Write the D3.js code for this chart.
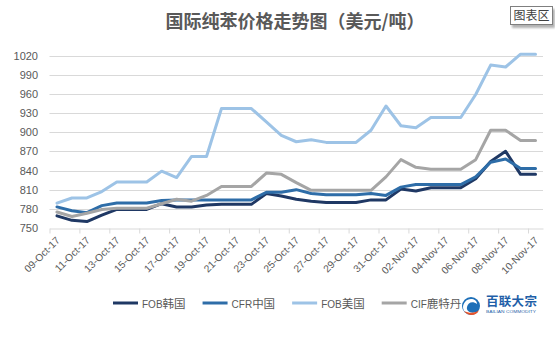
<!DOCTYPE html>
<html>
<head>
<meta charset="utf-8">
<script src="https://cdn.jsdelivr.net/npm/d3@7"></script>
<style>
  html, body { margin: 0; padding: 0; background: #fff; }
  svg { display: block; }
  text { font-family: "Liberation Sans", "Noto Sans CJK SC", sans-serif; }
</style>
</head>
<body>
<svg id="chart" width="555" height="338"></svg>
<script>
// Daily quotations, Oct 9 – Nov 10 2017 (weekends carry Friday's price)
const dates = [
  "2017-10-09","2017-10-10","2017-10-11","2017-10-12","2017-10-13","2017-10-14","2017-10-15",
  "2017-10-16","2017-10-17","2017-10-18","2017-10-19","2017-10-20","2017-10-21","2017-10-22",
  "2017-10-23","2017-10-24","2017-10-25","2017-10-26","2017-10-27","2017-10-28","2017-10-29",
  "2017-10-30","2017-10-31","2017-11-01","2017-11-02","2017-11-03","2017-11-04","2017-11-05",
  "2017-11-06","2017-11-07","2017-11-08","2017-11-09","2017-11-10"
];
const fobKorea = [769,762,760,770,779,779,779, 788,783,783,786,787,787,787, 804,800,795,792,790,790,790, 794,794,811,808,813,813,813, 827,854,870,834,834];
const cfrChina = [783,777,774,785,789,789,789, 793,794,794,794,794,794,794, 806,806,810,804,802,802,802, 804,801,814,818,818,818,818, 830,853,858,843,843];
const fobUSA = [789,797,797,807,822,822,822, 839,829,862,862,937,937,937, 916,895,885,888,884,884,884, 903,941,910,907,923,923,923, 959,1005,1002,1022,1022];
const cifRotterdam = [775,768,773,779,781,781,781, 788,795,792,801,815,815,815, 836,834,821,809,809,809,809, 809,830,857,845,842,842,842, 857,903,903,887,887];

const seriesNames = ["FOB韩国", "CFR中国", "FOB美国", "CIF鹿特丹"];
const seriesColors = ["#1F3864", "#2E6DA8", "#9DC3E6", "#A5A5A5"];
const yTicks = [750, 780, 810, 840, 870, 900, 930, 960, 990, 1020];
const titleText = "国际纯苯价格走势图（美元/吨）";

const svg = d3.select("#chart");
const parse = d3.timeParse("%Y-%m-%d");
const days = dates.map(parse);
const series = [fobKorea, cfrChina, fobUSA, cifRotterdam];

// plot frame
const plotLeft = 49.5, plotRight = 543, plotTop = 55.5, plotBottom = 228;

const x = d3.scaleTime()
  .domain([days[0], d3.timeDay.offset(days[days.length - 1], 1)])
  .range([plotLeft, plotRight]);
const y = d3.scaleLinear().domain([750, 1020]).range([plotBottom, plotTop]);

// each day's value sits in the middle of its day slot
const xMid = d => x(d3.timeHour.offset(d, 12));

// gridlines
svg.append("g")
  .selectAll("line")
  .data(yTicks.slice(1))
  .join("line")
  .attr("x1", plotLeft).attr("x2", plotRight)
  .attr("y1", d => Math.round(y(d)) + 0.5).attr("y2", d => Math.round(y(d)) + 0.5)
  .attr("stroke", "#D9D9D9").attr("stroke-width", 1);

// y labels
const yAxis = d3.axisLeft(y).tickValues(yTicks).tickSize(0).tickPadding(0).tickFormat(d3.format("d"));
const gy = svg.append("g").attr("transform", `translate(38,0)`).call(yAxis);
gy.select(".domain").remove();
gy.selectAll("text")
  .attr("fill", "#595959").attr("font-size", 11)
  .style("font-family", "'Liberation Sans', sans-serif");

// x axis
const xTicks = d3.timeDay.range(days[0], d3.timeDay.offset(days[days.length - 1], 1), 2);
const xAxis = d3.axisBottom(x)
  .tickValues(xTicks)
  .tickSize(5)
  .tickSizeOuter(0)
  .tickFormat(d3.timeFormat("%d-%b-%y"));
const gx = svg.append("g").attr("transform", `translate(0,${plotBottom + 0.5})`).call(xAxis);
gx.select(".domain").attr("stroke", "#D9D9D9");
gx.selectAll(".tick line").attr("stroke", "#D9D9D9");
gx.selectAll(".tick text")
  .attr("fill", "#595959")
  .attr("font-size", 10.2)
  .style("font-family", "'Liberation Sans', sans-serif")
  .attr("text-anchor", "end")
  .attr("transform", "translate(8,10) rotate(-45)")
  .attr("dy", "0.35em")
  .attr("y", 0)
  .attr("x", 0);

// series lines
const line = d3.line()
  .x((v, i) => xMid(days[i]))
  .y(v => y(v))
  .curve(d3.curveLinear);

svg.append("g")
  .selectAll("path")
  .data(series)
  .join("path")
  .attr("d", d => line(d))
  .attr("fill", "none")
  .attr("stroke", (d, i) => seriesColors[i])
  .attr("stroke-width", 3)
  .attr("stroke-linejoin", "round")
  .attr("stroke-linecap", "round");

// title
svg.append("text")
  .attr("x", 295).attr("y", 28)
  .attr("text-anchor", "middle")
  .attr("fill", "#595959")
  .attr("font-size", 18)
  .attr("font-weight", "bold")
  .style("font-family", "'Noto Sans CJK SC', sans-serif")
  .text(titleText);

// chart-area tag in the corner
const defs = svg.append("defs");
const shadow = defs.append("filter").attr("id", "tagShadow").attr("x", "-20%").attr("y", "-20%").attr("width", "150%").attr("height", "170%");
shadow.append("feDropShadow").attr("dx", 2).attr("dy", 3).attr("stdDeviation", 1.2).attr("flood-color", "#808080").attr("flood-opacity", 0.6);
const tag = svg.append("g");
tag.append("rect")
  .attr("x", 510.5).attr("y", 6.5).attr("width", 42).attr("height", 18)
  .attr("fill", "#fff").attr("stroke", "#7F7F7F").attr("stroke-width", 1)
  .attr("filter", "url(#tagShadow)");
tag.append("text")
  .attr("x", 531.5).attr("y", 20)
  .attr("text-anchor", "middle")
  .attr("fill", "#404040").attr("font-size", 12)
  .style("font-family", "'Noto Sans CJK SC', sans-serif")
  .text("图表区");

// legend: Latin prefix set a little smaller than the Chinese suffix
const legend = svg.append("g").attr("transform", "translate(113,303)");
let lx = 0;
seriesNames.forEach((name, i) => {
  const g = legend.append("g").attr("transform", `translate(${lx},0)`);
  g.append("line").attr("x1", 0).attr("x2", 25).attr("y1", 0).attr("y2", 0)
    .attr("stroke", seriesColors[i]).attr("stroke-width", 3);
  const parts = name.match(/^([A-Za-z]+)(.*)$/);
  const t = g.append("text").attr("x", 29).attr("y", 4.5).attr("fill", "#595959");
  t.append("tspan").attr("font-size", 10).style("font-family", "'Liberation Sans', sans-serif").text(parts[1]);
  t.append("tspan").attr("font-size", 11.5).style("font-family", "'Noto Sans CJK SC', sans-serif").text(parts[2]);
  lx += 29 + t.node().getComputedTextLength() + 17;
});

// company mark
const logo = svg.append("g").attr("transform", "translate(471,306)");
logo.append("circle").attr("r", 9).attr("fill", "#1D6FB8");
logo.append("path")
  .attr("d", "M-6,-4 C-2,-9 6,-7 6,-2 C2,-5 -3,-4 -4,1 C-5,5 0,8 5,6 C1,10 -8,8 -8,1 C-8,-1 -7,-3 -6,-4 Z")
  .attr("fill", "#fff");
logo.append("path")
  .attr("d", "M-7,5 C-3,11 6,10 8,4 C5,7 -1,8 -7,5 Z")
  .attr("fill", "#E8542A");
svg.append("text")
  .attr("x", 486).attr("y", 306)
  .attr("fill", "#1F5FA8").attr("font-size", 12.5).attr("font-weight", "bold")
  .attr("letter-spacing", 0.3)
  .style("font-family", "'Noto Sans CJK SC', sans-serif")
  .text("百联大宗");
svg.append("text")
  .attr("x", 486).attr("y", 312.5)
  .attr("fill", "#1F5FA8").attr("font-size", 4.2)
  .attr("textLength", 50).attr("lengthAdjust", "spacingAndGlyphs")
  .text("BAILIAN COMMODITY");
</script>
</body>
</html>
